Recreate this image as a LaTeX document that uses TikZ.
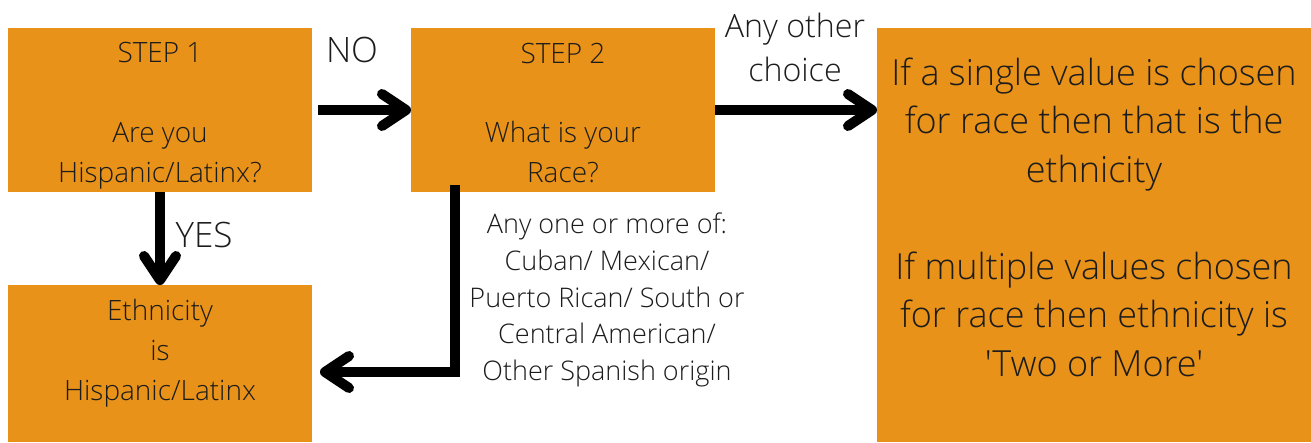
\documentclass[tikz,border=0pt]{standalone}
\usepackage{fontspec}
\setmainfont{Open Sans}[UprightFont={* Light}, Ligatures=TeXOff]
\usetikzlibrary{arrows.meta}
\definecolor{boxorange}{HTML}{E89219}
\definecolor{inktext}{HTML}{1C1C1C}
\tikzset{
  box/.style={fill=boxorange, inner sep=0pt, outer sep=0pt},
  boxtext/.style={align=center, text=inktext, font=\fontsize{39.8pt}{56.9pt}\selectfont},
  bigtext/.style={align=center, text=inktext, font=\fontsize{51.2pt}{69pt}\selectfont},
  flowlabel/.style={align=center, text=inktext, inner sep=0pt},
  flow/.style={line width=5mm, -{Straight Barb[length=12mm, width=16mm, round]}},
}
\begin{document}
\begin{tikzpicture}[x=0.5mm, y=-0.5mm]
  \useasboundingbox (0,0) rectangle (1311,442);
  \node[box, minimum width=152mm, minimum height=82mm] (step1) at (160,110) {};
  \node[box, minimum width=152mm, minimum height=82mm] (step2) at (563,110) {};
  \node[box, minimum width=217mm, minimum height=207mm] (result) at (1094,235) {};
  \node[box, minimum width=152mm, minimum height=78.5mm] (hisp) at (160,363.5) {};
  \node[boxtext] (step1text) at (160,116) {STEP 1\\[\baselineskip]Are you\\Hispanic/Latinx?};
  \node[boxtext] (step2text) at (563,113) {STEP 2\\[\baselineskip]What is your\\Race?};
  \node[boxtext] (hisptext) at (160,353) {Ethnicity\\is\\Hispanic/Latinx};
  \node[bigtext] (resulttext) at (1094,217) {If a single value is chosen\\for race then that is the\\ethnicity\\[\baselineskip]If multiple values chosen\\for race then ethnicity is\\'Two or More'};
  \draw[flow] ([xshift=3mm]step1.east) -- (step2.west);
  \draw[flow] (step2.east) -- (result.west |- step2.east);
  \draw[flow] (step1.south) -- (hisp.north);
  \draw[flow] ([shift={(44,-7)}]step2.south west) |- ([shift={(8,8.5)}]hisp.east);
  \node[flowlabel, font=\fontsize{49.8pt}{60pt}\selectfont, anchor=base] (no) at (352,62) {NO};
  \node[flowlabel, font=\fontsize{49.8pt}{60pt}\selectfont, anchor=base] (yes) at (204,247) {YES};
  \node[flowlabel, font=\fontsize{45.8pt}{62.6pt}\selectfont] (other) at (795,47) {Any other\\choice};
  \node[flowlabel, font=\fontsize{38.4pt}{52.2pt}\selectfont] (race) at (607,300) {Any one or more of:\\Cuban/ Mexican/\\Puerto Rican/ South or\\Central American/\\Other Spanish origin};
\end{tikzpicture}
\end{document}
